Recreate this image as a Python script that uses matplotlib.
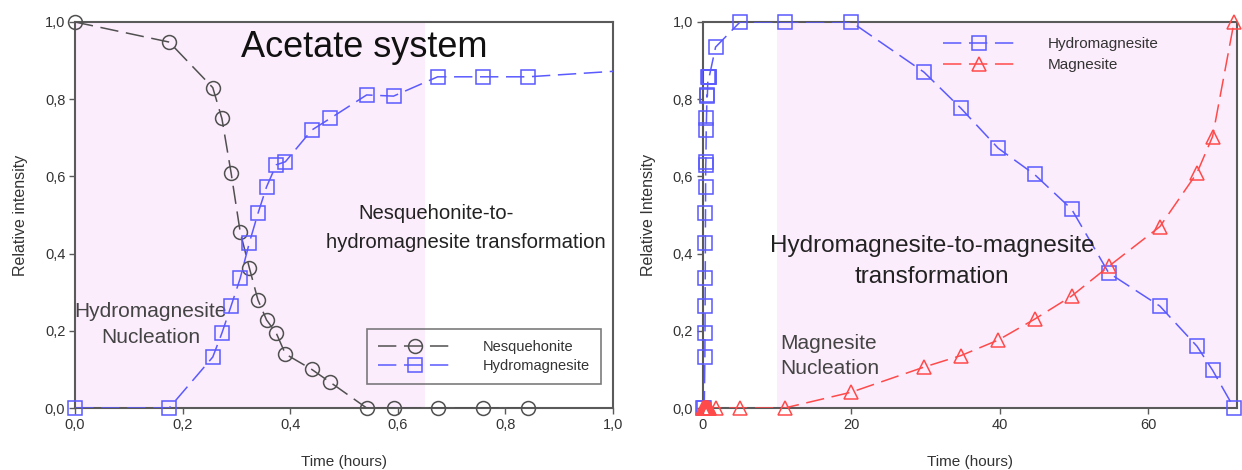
import numpy as np
import matplotlib
matplotlib.use("Agg")
import matplotlib.pyplot as plt
from matplotlib.lines import Line2D
from matplotlib.ticker import FuncFormatter, MultipleLocator

plt.rcParams['font.family'] = ['Liberation Sans', 'DejaVu Sans']

# early sampling times (hours), shared by both series
t_early = [0.0, 0.175, 0.256, 0.273, 0.29, 0.307, 0.324, 0.34, 0.356, 0.374,
           0.391, 0.44, 0.474, 0.542, 0.592, 0.674, 0.758, 0.842]
# later sampling times (hours)
t_late = [1.7, 5, 11, 20, 29.8, 34.8, 39.8, 44.7, 49.7, 54.7, 61.6, 66.6, 68.7, 71.6]

nesquehonite = [1.0, 0.948, 0.83, 0.75, 0.61, 0.456, 0.363, 0.28, 0.228, 0.194,
                0.14, 0.10, 0.067, 0, 0, 0, 0, 0]
hydro_early = [0, 0, 0.132, 0.194, 0.264, 0.336, 0.428, 0.504, 0.573, 0.63,
               0.638, 0.72, 0.75, 0.811, 0.808, 0.858, 0.858, 0.858]
hydro_late = [0.935, 1.0, 1.0, 1.0, 0.87, 0.776, 0.673, 0.605, 0.515, 0.35,
              0.264, 0.16, 0.098, 0.0]
magn_early = [0] * len(t_early)
magn_late = [0, 0, 0, 0.041, 0.106, 0.136, 0.176, 0.23, 0.29, 0.367,
             0.47, 0.609, 0.703, 1.0]

t_all = np.array(t_early + t_late)
hydro_all = np.array(hydro_early + hydro_late)
magn_all = np.array(magn_early + magn_late)

GRAY = '#505050'
BLUE = '#5a5aff'
RED = '#ff4a4a'
PINK = '#fcedfc'
SPINE = '#5a5a5a'
TXT = '#333333'
DASH = (12, 5)

fig = plt.figure(figsize=(12.42, 4.70), dpi=100)
ax1 = fig.add_axes([0.0604, 0.1319, 0.4332, 0.8213])
ax2 = fig.add_axes([0.566, 0.1319, 0.430, 0.8213])


def series(ax, x, y, color, marker, ms, xmax):
    x = np.asarray(x)
    y = np.asarray(y)
    ax.plot(x, y, color=color, lw=1.1, dashes=DASH, zorder=3)
    keep = x <= xmax
    ax.plot(x[keep], y[keep], ls='none', marker=marker, ms=ms, mfc='none',
            mec=color, mew=1.1, clip_on=False, zorder=4)


def comma(fmt):
    return FuncFormatter(lambda v, p: (fmt % v).replace('.', ','))


for ax in (ax1, ax2):
    for s in ax.spines.values():
        s.set_color(SPINE)
        s.set_linewidth(1.5)
    ax.set_ylim(0, 1)
    ax.yaxis.set_major_locator(MultipleLocator(0.2))
    ax.yaxis.set_major_formatter(comma('%.1f'))
    ax.tick_params(direction='out', length=4, width=1, color=SPINE,
                   labelsize=10.5, labelcolor=TXT, pad=3)
    ax.set_xlabel('Time (hours)', fontsize=11, color=TXT, labelpad=17)

# left panel: acetate system
ax1.set_xlim(0, 1)
ax1.xaxis.set_major_locator(MultipleLocator(0.2))
ax1.xaxis.set_major_formatter(comma('%.1f'))
ax1.axvspan(0, 0.65, color=PINK, lw=0, zorder=0)
series(ax1, t_early, nesquehonite, GRAY, 'o', 10, 1.0)
series(ax1, t_all, hydro_all, BLUE, 's', 9.5, 1.0)
ax1.set_ylabel('Relative intensity', fontsize=11.5, color=TXT, labelpad=12)

ax1.text(0.538, 0.935, 'Acetate system', fontsize=26, color='#111111',
         ha='center', va='center')
ax1.text(0.671, 0.505, 'Nesquehonite-to-', fontsize=14.6, color='#222222',
         ha='center', va='center')
ax1.text(0.727, 0.43, 'hydromagnesite transformation', fontsize=14.6,
         color='#222222', ha='center', va='center')
ax1.text(0.141, 0.249, 'Hydromagnesite', fontsize=15, color='#444444',
         ha='center', va='center')
ax1.text(0.141, 0.182, 'Nucleation', fontsize=15, color='#444444',
         ha='center', va='center')

h1 = [Line2D([], [], color=GRAY, lw=1.1, dashes=DASH, marker='o', ms=10,
             mfc='none', mec=GRAY, mew=1.1),
      Line2D([], [], color=BLUE, lw=1.1, dashes=DASH, marker='s', ms=9.5,
             mfc='none', mec=BLUE, mew=1.1)]
leg1 = ax1.legend(h1, ['Nesquehonite', 'Hydromagnesite'], loc='upper left',
                  bbox_to_anchor=(0.543, 0.205), fontsize=10.5, frameon=True,
                  fancybox=False, edgecolor=SPINE, handlelength=5.0,
                  handletextpad=2.2, borderpad=0.75, labelspacing=0.35,
                  borderaxespad=0)
leg1.get_frame().set_linewidth(1.2)
leg1.get_frame().set_facecolor('none')
for t in leg1.get_texts():
    t.set_color(TXT)

# right panel: hydromagnesite to magnesite
ax2.set_xlim(0, 72)
ax2.xaxis.set_major_locator(MultipleLocator(20))
ax2.axvspan(10, 72, color=PINK, lw=0, zorder=0)
series(ax2, t_all, hydro_all, BLUE, 's', 9.5, 72)
series(ax2, t_all, magn_all, RED, '^', 10, 72)
ax2.set_ylabel('Relative Intensity', fontsize=11.5, color=TXT, labelpad=12)

ax2.text(30.9, 0.42, 'Hydromagnesite-to-magnesite', fontsize=17.5,
         color='#222222', ha='center', va='center')
ax2.text(30.9, 0.339, 'transformation', fontsize=17.5, color='#222222',
         ha='center', va='center')
ax2.text(10.4, 0.168, 'Magnesite', fontsize=15, color='#444444',
         ha='left', va='center')
ax2.text(10.4, 0.102, 'Nucleation', fontsize=15, color='#444444',
         ha='left', va='center')

h2 = [Line2D([], [], color=BLUE, lw=1.1, dashes=DASH, marker='s', ms=9.5,
             mfc='none', mec=BLUE, mew=1.1),
      Line2D([], [], color=RED, lw=1.1, dashes=DASH, marker='^', ms=10,
             mfc='none', mec=RED, mew=1.1)]
leg2 = ax2.legend(h2, ['Hydromagnesite', 'Magnesite'], loc='upper left',
                  bbox_to_anchor=(0.449, 0.96), fontsize=11, frameon=False,
                  handlelength=4.8, handletextpad=2.1, borderpad=0,
                  labelspacing=0.45, borderaxespad=0)
for t in leg2.get_texts():
    t.set_color(TXT)

fig.savefig('out.png', dpi=100, facecolor='white')
